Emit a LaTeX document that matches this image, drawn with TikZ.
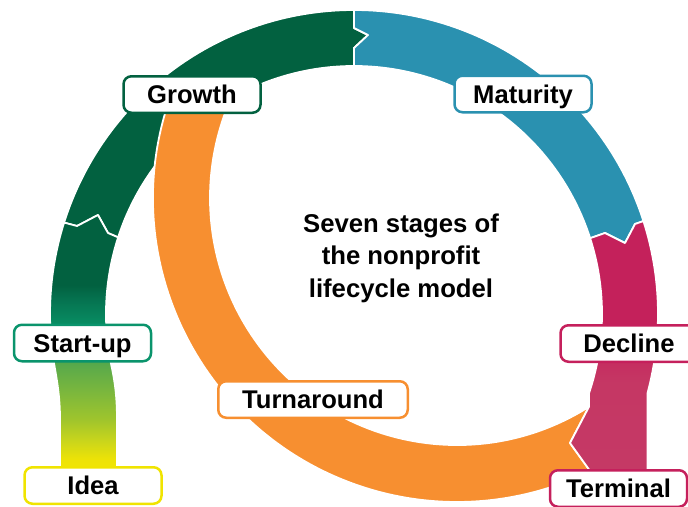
\documentclass[tikz,border=0pt]{standalone}
\usepackage{fontspec}
\setmainfont{Liberation Sans}
\usepackage{xcolor}
\usetikzlibrary{calc}

\definecolor{ideayellow}{RGB}{240,228,0}
\definecolor{startgreen}{RGB}{10,148,108}
\definecolor{growthgreen}{RGB}{2,97,64}
\definecolor{maturityblue}{RGB}{42,145,176}
\definecolor{declinepink}{RGB}{197,32,92}
\definecolor{turnorange}{RGB}{247,143,48}
% stops of the idea -> start-up band
\definecolor{su0}{RGB}{245,231,0}
\definecolor{su1}{RGB}{238,227,6}
\definecolor{su2}{RGB}{201,213,28}
\definecolor{su3}{RGB}{160,197,44}
\definecolor{su4}{RGB}{125,184,60}
\definecolor{su5}{RGB}{91,170,74}
\definecolor{su6}{RGB}{8,140,98}
\definecolor{su7}{RGB}{5,115,80}
% stops of the decline -> terminal band
\definecolor{dc0}{RGB}{197,58,102}
\definecolor{dc1}{RGB}{197,55,100}
\definecolor{dc2}{RGB}{196,33,91}

\pgfdeclareverticalshading{startupshade}{100bp}{%
  color(0bp)=(su0); color(25bp)=(su0); color(28.8bp)=(su1);
  color(32.5bp)=(su2); color(36.3bp)=(su3); color(41.4bp)=(su4);
  color(46.5bp)=(su5); color(54.6bp)=(su6); color(59bp)=(su7);
  color(61.8bp)=(growthgreen); color(100bp)=(growthgreen)}
\pgfdeclareverticalshading{declineshade}{100bp}{%
  color(0bp)=(dc0); color(25bp)=(dc0); color(47.5bp)=(dc1);
  color(56.1bp)=(dc2); color(100bp)=(declinepink)}

\tikzset{
  stage/.style={ % white label box of one stage
    draw, rectangle, rounded corners=8pt, fill=white,
    line width=2.5pt, minimum width=137pt, minimum height=36.5pt,
    inner sep=0pt, text=black, text height=18.3pt, text depth=0pt,
    font=\fontsize{25.6}{30}\selectfont\bfseries
  },
  band/.style={ % coloured segment of the cycle
    draw=white, line width=1.8pt, line join=round
  }
}

\begin{document}
\begin{tikzpicture}[x=1pt, y=-1pt]
  \clip (0,0) rectangle (688,506);
  \coordinate (ring) at (354,314);
  \coordinate (turn) at (457,198);

  \filldraw[band, fill=growthgreen] ($(ring)+(197.5:304)$)
    arc[start angle=197.5, end angle=270, radius=304]
    -- (354,28) -- (368,35) -- (354,48) -- ($(ring)+(270:248)$)
    arc[start angle=270, end angle=198, radius=248]
    -- (108,233) -- (98,215) -- (77,226) -- cycle;
  \filldraw[band, fill=maturityblue] ($(ring)+(270:304)$)
    arc[start angle=270, end angle=342.2, radius=304]
    -- (635,224) -- (625,243) -- (605,233) -- ($(ring)+(342.2:248)$)
    arc[start angle=342.2, end angle=270, radius=248]
    -- (354,48) -- (368,35) -- (354,28) -- cycle;
  \shadedraw[band, shading=startupshade] ($(ring)+(197.5:304)$)
    -- (77,226) -- (98,215) -- (108,233) -- ($(ring)+(198:248)$)
    arc[start angle=198, end angle=168, radius=248]
    .. controls (115.6,385) and (117,400) .. (117,420) -- (117,480)
    -- (60,480) -- (60,420) .. controls (60,400) and (58,386) .. ($(ring)+(170:304)$)
    arc[start angle=170, end angle=197.5, radius=304] -- cycle;
  \filldraw[band, fill=turnorange] ($(turn)+(197.8:304)$)
    arc[start angle=197.8, end angle=64, radius=304]
    -- (570,443) -- ($(turn)+(57.7:247)$)
    arc[start angle=57.7, end angle=202.1, radius=247] -- cycle;
  \shadedraw[band, shading=declineshade] ($(ring)+(-17.8:304)$)
    arc[start angle=-17.8, end angle=15, radius=304]
    -- (647.6,515) -- (590,515) -- ($(turn)+(64:304)$) -- (570,443)
    -- ($(turn)+(57.7:247)$) -- ($(ring)+(18.6:248)$)
    arc[start angle=18.6, end angle=-17.8, radius=248]
    -- (605,233) -- (625,243) -- (635,224) -- cycle;

  \node[stage, draw=growthgreen] (growth) at (192,94.5) {Growth};
  \node[stage, draw=maturityblue] (maturity) at (523,94) {Maturity};
  \node[stage, draw=startgreen] (startup) at (82.5,343) {Start-up};
  \node[stage, draw=ideayellow] (idea) at (93,485.5) {Idea};
  \node[stage, draw=turnorange, minimum width=189.5pt] (turnaround) at (313,399.5) {Turnaround};
  \node[stage, draw=declinepink] (decline) at (629,343.5) {Decline};
  \node[stage, draw=declinepink] (terminal) at (618.5,488.5) {Terminal};
  \node[align=center, inner sep=0pt, font=\fontsize{25.7}{32.5}\selectfont\bfseries]
    (title) at (401,258) {Seven stages of\\the nonprofit\\lifecycle model};
\end{tikzpicture}
\end{document}
